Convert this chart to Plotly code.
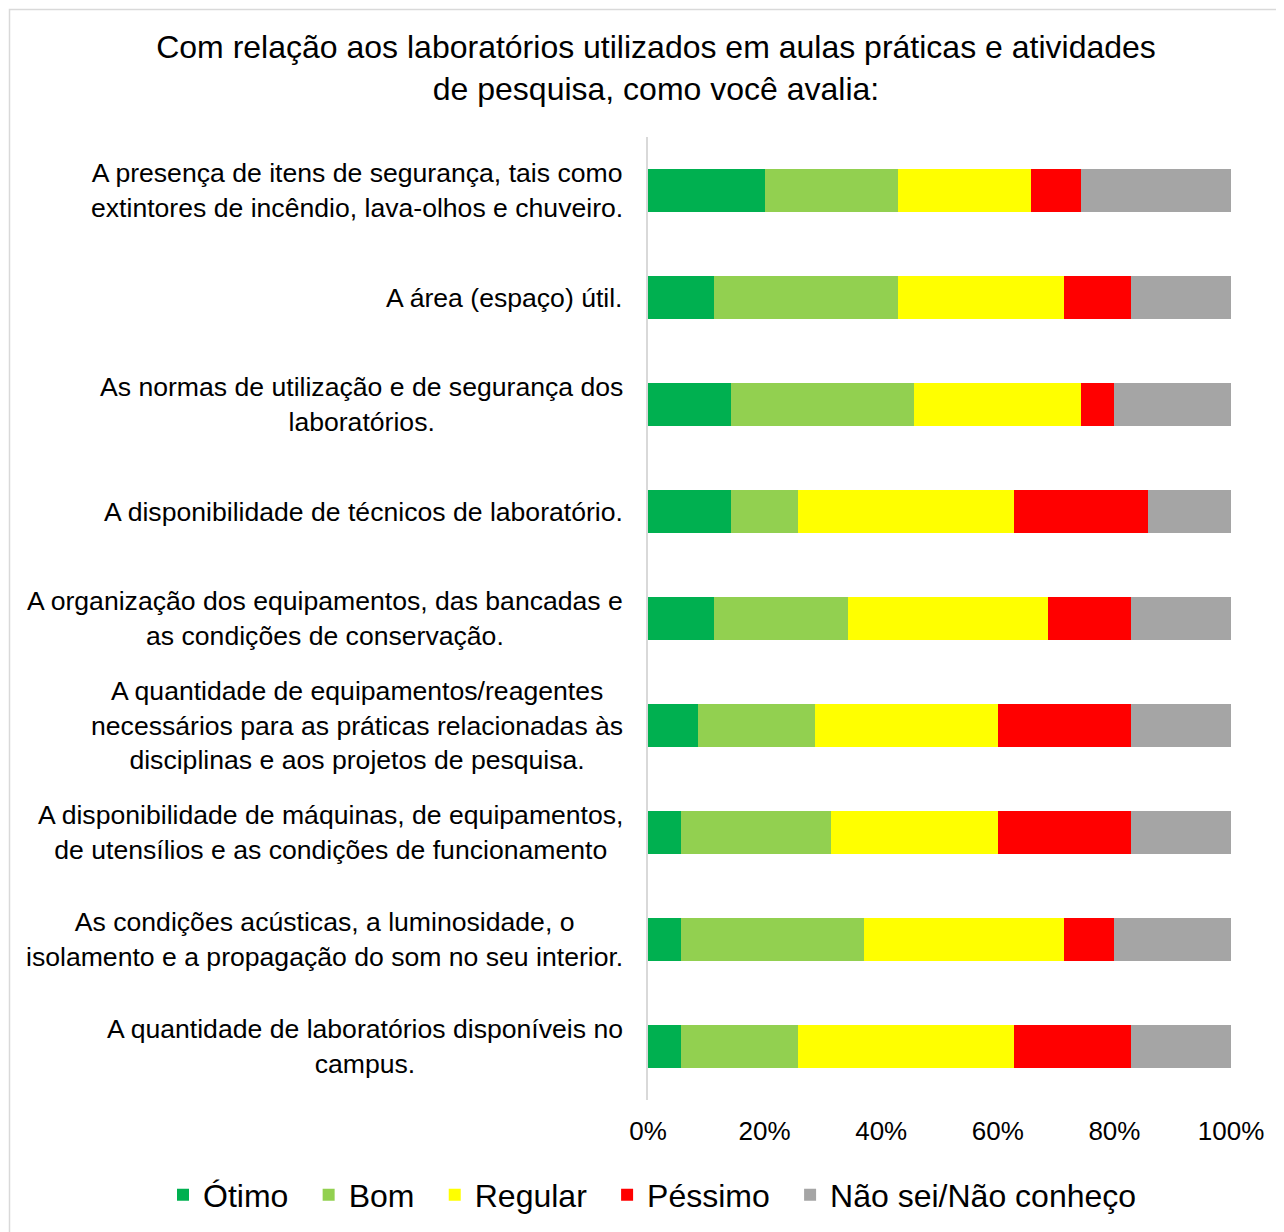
import plotly.graph_objects as go

categories = [
    "A presença de itens de segurança, tais como<br>extintores de incêndio, lava-olhos e chuveiro.",
    "A área (espaço) útil.",
    "As normas de utilização e de segurança dos<br>laboratórios.",
    "A disponibilidade de técnicos de laboratório.",
    "A organização dos equipamentos, das bancadas e<br>as condições de conservação.",
    "A quantidade de equipamentos/reagentes<br>necessários para as práticas relacionadas às<br>disciplinas e aos projetos de pesquisa.",
    "A disponibilidade de máquinas, de equipamentos,<br>de utensílios e as condições de funcionamento",
    "As condições acústicas, a luminosidade, o<br>isolamento e a propagação do som no seu interior.",
    "A quantidade de laboratórios disponíveis no<br>campus.",
]

otimo    = [20.0, 11.4, 14.3, 14.3, 11.4,  8.6,  5.7,  5.7,  5.7]
bom      = [22.9, 31.4, 31.4, 11.4, 22.9, 20.0, 25.7, 31.4, 20.0]
regular  = [22.8, 28.6, 28.6, 37.1, 34.3, 31.4, 28.6, 34.3, 37.1]
pessimo  = [ 8.6, 11.5,  5.7, 22.9, 14.3, 22.9, 22.9,  8.6, 20.0]
nao_sei  = [25.7, 17.1, 20.0, 14.3, 17.1, 17.1, 17.1, 20.0, 17.2]

series_names = ["Ótimo", "Bom", "Regular", "Péssimo", "Não sei/Não conheço"]
series_values = [otimo, bom, regular, pessimo, nao_sei]
series_colors = ["#00B050", "#92D050", "#FFFF00", "#FF0000", "#A5A5A5"]

tick_vals = [0, 20, 40, 60, 80, 100]
tick_text = ["0%", "20%", "40%", "60%", "80%", "100%"]

title_text = "Com relação aos laboratórios utilizados em aulas práticas e atividades<br>de pesquisa, como você avalia:"

FONT = "Liberation Sans, Arial, sans-serif"

# page has an 8px body margin; figure is sized/positioned to compensate
OFF = 8
W, H = 1284 - OFF, 1232 - OFF
L, R, T, B = 648 - OFF, 1284 - 1231, 137 - OFF, 1232 - 1100
pw, ph = W - L - R, H - T - B


def px_x(px):
    return (px - OFF - L) / pw


def px_y(py):
    return (H - B - (py - OFF)) / ph


GAP = "\u00a0\u2009"  # widens the gap between legend entries

fig = go.Figure()
for i, (name, vals, color) in enumerate(zip(series_names, series_values, series_colors)):
    label = name + (GAP if i < len(series_names) - 1 else "")
    fig.add_trace(go.Bar(
        y=categories, x=vals, name=label, orientation="h",
        marker=dict(color=color, line=dict(width=0)),
        width=0.4,
    ))

for c in categories:
    fig.add_annotation(
        x=0, xref="paper", y=c, yref="y", text=c, showarrow=False,
        xanchor="right", yanchor="middle", align="center", xshift=-23,
        font=dict(family=FONT, size=26.6, color="#000000"),
    )

# outer chart border
fig.add_shape(type="rect", xref="paper", yref="paper",
              x0=px_x(9.5), x1=px_x(1300), y0=px_y(1250), y1=px_y(9.5),
              line=dict(color="#D9D9D9", width=1.5), fillcolor="rgba(0,0,0,0)", layer="below")

fig.update_layout(
    width=W, height=H,
    barmode="stack",
    plot_bgcolor="white", paper_bgcolor="white",
    margin=dict(l=L, r=R, t=T, b=B, autoexpand=False),
    title=dict(text=title_text, x=(656 - OFF) / W, xref="container", xanchor="center",
               y=1 - (58 - OFF) / H, yref="container", yanchor="middle",
               font=dict(family=FONT, size=32, color="#000000")),
    xaxis=dict(range=[0, 100], tickvals=tick_vals, ticktext=tick_text,
               showgrid=False, zeroline=False, showline=False,
               ticklabelstandoff=13,
               tickfont=dict(family=FONT, size=26, color="#000000")),
    yaxis=dict(autorange="reversed", showticklabels=False, showgrid=False,
               showline=True, linecolor="#D9D9D9", linewidth=2, zeroline=False),
    showlegend=True,
    legend=dict(orientation="h", x=px_x(163), xref="paper", xanchor="left",
                y=px_y(1195), yref="paper", yanchor="middle",
                font=dict(family=FONT, size=32, color="#000000"),
                itemwidth=30, traceorder="normal"),
    bargap=0.6,
)

fig.write_html("out.html")
